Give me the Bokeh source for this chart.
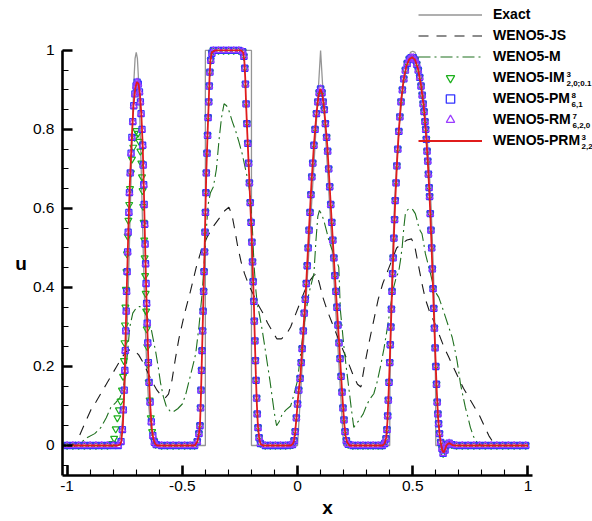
from bokeh.plotting import figure
from bokeh.models import FixedTicker, PrintfTickFormatter, Legend, LegendItem, Label, Range1d
from bokeh.embed import file_html
from bokeh.resources import INLINE

FONT = "Liberation Sans"

# ---- axis ticks -------------------------------------------------------------
x_ticks = [-1, -0.5, 0, 0.5, 1]
x_minor = [-1.0, -0.9, -0.8, -0.7, -0.6, -0.5, -0.4, -0.3, -0.2, -0.1, 0.0,
           0.1, 0.2, 0.3, 0.4, 0.5, 0.6, 0.7, 0.8, 0.9, 1.0]
u_ticks = [0, 0.2, 0.4, 0.6, 0.8, 1]
u_minor = [-0.05, 0.0, 0.05, 0.1, 0.15, 0.2, 0.25, 0.3, 0.35, 0.4, 0.45, 0.5,
           0.55, 0.6, 0.65, 0.7, 0.75, 0.8, 0.85, 0.9, 0.95, 1.0]

# ---- exact solution ---------------------------------------------------------
exact_x = [-1.0, -0.8, -0.78, -0.77, -0.765, -0.76, -0.755, -0.75, -0.745, -0.74,
           -0.735, -0.73, -0.725, -0.72, -0.715, -0.71, -0.705, -0.7, -0.695, -0.69,
           -0.685, -0.68, -0.675, -0.67, -0.665, -0.66, -0.655, -0.65, -0.645, -0.64,
           -0.635, -0.63, -0.62, -0.6,
           -0.4, -0.4, -0.2, -0.2,
           0.0, 0.1, 0.2,
           0.4, 0.401, 0.405, 0.41, 0.42, 0.43, 0.44, 0.45, 0.46, 0.47, 0.48, 0.49, 0.5,
           0.51, 0.52, 0.53, 0.54, 0.55, 0.56, 0.57, 0.58, 0.59, 0.595, 0.599, 0.6, 1.0]
exact_u = [0.0, 0.0, 0.007, 0.023, 0.039, 0.063, 0.097, 0.146, 0.21, 0.29,
           0.39, 0.5, 0.618, 0.735, 0.84, 0.926, 0.98, 0.995, 0.98, 0.926,
           0.84, 0.735, 0.618, 0.5, 0.39, 0.29, 0.21, 0.146, 0.097, 0.063,
           0.039, 0.023, 0.007, 0.0,
           0.0, 1.0, 1.0, 0.0,
           0.0, 1.0, 0.0,
           0.0, 0.141, 0.312, 0.436, 0.6, 0.714, 0.8, 0.866, 0.917, 0.954, 0.98, 0.995, 0.998,
           0.995, 0.98, 0.954, 0.917, 0.866, 0.8, 0.714, 0.6, 0.436, 0.312, 0.141, 0.0, 0.0]

# ---- WENO5-JS ---------------------------------------------------------------
js_x = [-1.0, -0.97, -0.95, -0.92, -0.897, -0.875, -0.854, -0.83, -0.81, -0.785,
        -0.76, -0.735, -0.71, -0.69, -0.67, -0.65, -0.63, -0.61, -0.59, -0.575,
        -0.56, -0.545, -0.53, -0.515, -0.49, -0.465, -0.44, -0.415, -0.39, -0.365,
        -0.34, -0.315, -0.298, -0.285, -0.272, -0.26, -0.245, -0.23, -0.211, -0.19,
        -0.175, -0.15, -0.13, -0.11, -0.09, -0.07, -0.05, -0.03, -0.01, 0.01,
        0.03, 0.05, 0.07, 0.082, 0.095, 0.11, 0.13, 0.15, 0.17, 0.195,
        0.22, 0.24, 0.26, 0.275, 0.29, 0.31, 0.33, 0.35, 0.37, 0.39,
        0.41, 0.43, 0.45, 0.475, 0.495, 0.51, 0.525, 0.54, 0.555, 0.575,
        0.595, 0.615, 0.635, 0.655, 0.675, 0.695, 0.72, 0.745, 0.77, 0.79,
        0.81, 0.83, 0.85, 0.87, 1.0]
js_u = [0.0, 0.003, 0.02, 0.06, 0.09, 0.11, 0.131, 0.155, 0.175, 0.2,
        0.225, 0.242, 0.24, 0.23, 0.21, 0.185, 0.16, 0.14, 0.125, 0.12,
        0.13, 0.165, 0.22, 0.27, 0.335, 0.39, 0.45, 0.5, 0.53, 0.555,
        0.575, 0.595, 0.603, 0.585, 0.545, 0.505, 0.465, 0.435, 0.405, 0.38,
        0.36, 0.335, 0.31, 0.29, 0.27, 0.27, 0.28, 0.3, 0.33, 0.36,
        0.39, 0.415, 0.43, 0.435, 0.41, 0.375, 0.34, 0.31, 0.28, 0.245,
        0.21, 0.18, 0.155, 0.148, 0.2, 0.26, 0.315, 0.37, 0.41, 0.44,
        0.47, 0.5, 0.51, 0.52, 0.523, 0.5, 0.455, 0.41, 0.37, 0.335,
        0.31, 0.28, 0.25, 0.225, 0.2, 0.175, 0.145, 0.12, 0.095, 0.075,
        0.05, 0.025, 0.007, 0.0, 0.0]

# ---- WENO5-M ----------------------------------------------------------------
m_x = [-1.0, -0.95, -0.93, -0.91, -0.88, -0.854, -0.83, -0.81, -0.79, -0.77,
       -0.755, -0.745, -0.737, -0.728, -0.715, -0.7, -0.685, -0.67, -0.652, -0.635,
       -0.625, -0.615, -0.605, -0.595, -0.583, -0.57, -0.555, -0.543, -0.52, -0.5,
       -0.485, -0.47, -0.455, -0.442, -0.428, -0.413, -0.399, -0.388, -0.378, -0.365,
       -0.352, -0.341, -0.33, -0.319, -0.308, -0.298, -0.283, -0.269, -0.255, -0.24,
       -0.228, -0.218, -0.204, -0.196, -0.189, -0.182, -0.175, -0.165, -0.153, -0.142,
       -0.131, -0.12, -0.11, -0.1, -0.091, -0.08, -0.066, -0.05, -0.03, -0.015,
       0.0, 0.015, 0.027, 0.04, 0.049, 0.06, 0.071, 0.08, 0.088, 0.095,
       0.105, 0.114, 0.125, 0.136, 0.147, 0.157, 0.168, 0.179, 0.186, 0.193,
       0.2, 0.211, 0.222, 0.233, 0.244, 0.255, 0.266, 0.285, 0.302, 0.317,
       0.331, 0.345, 0.36, 0.375, 0.389, 0.403, 0.417, 0.428, 0.439, 0.447,
       0.454, 0.461, 0.468, 0.478, 0.49, 0.5, 0.511, 0.519, 0.526, 0.533,
       0.54, 0.548, 0.555, 0.566, 0.577, 0.591, 0.602, 0.613, 0.628, 0.642,
       0.656, 0.671, 0.682, 0.692, 0.7, 0.707, 0.718, 0.728, 0.74, 0.75,
       0.762, 0.772, 0.785, 0.8, 1.0]
m_u = [0.0, 0.004, 0.012, 0.021, 0.03, 0.045, 0.07, 0.097, 0.108, 0.122,
       0.15, 0.19, 0.24, 0.3, 0.335, 0.348, 0.352, 0.345, 0.325, 0.295,
       0.265, 0.235, 0.2, 0.16, 0.125, 0.1, 0.088, 0.084, 0.093, 0.105,
       0.13, 0.165, 0.2, 0.232, 0.3, 0.392, 0.519, 0.61, 0.64, 0.655,
       0.7, 0.772, 0.83, 0.865, 0.86, 0.848, 0.82, 0.797, 0.77, 0.738,
       0.705, 0.679, 0.629, 0.55, 0.46, 0.4, 0.359, 0.33, 0.291, 0.25,
       0.207, 0.165, 0.122, 0.08, 0.05, 0.06, 0.08, 0.09, 0.1, 0.13,
       0.165, 0.24, 0.3, 0.35, 0.384, 0.41, 0.435, 0.52, 0.58, 0.595,
       0.585, 0.57, 0.545, 0.519, 0.5, 0.485, 0.47, 0.451, 0.342, 0.3,
       0.257, 0.2, 0.148, 0.095, 0.046, 0.055, 0.063, 0.08, 0.105, 0.12,
       0.131, 0.16, 0.2, 0.245, 0.295, 0.35, 0.4, 0.425, 0.44, 0.47,
       0.502, 0.55, 0.587, 0.597, 0.6, 0.597, 0.587, 0.57, 0.553, 0.543,
       0.536, 0.51, 0.485, 0.46, 0.435, 0.4, 0.385, 0.375, 0.35, 0.325,
       0.3, 0.274, 0.245, 0.215, 0.185, 0.156, 0.125, 0.097, 0.07, 0.046,
       0.025, 0.013, 0.004, 0.0, 0.0]

# ---- WENO5-PRM (solid line) -------------------------------------------------
prm_x = [-1.0, -0.78, -0.77, -0.765, -0.758, -0.752, -0.746, -0.740, -0.734, -0.728,
         -0.720, -0.712, -0.704, -0.697, -0.690, -0.684, -0.678, -0.672, -0.667, -0.662,
         -0.657, -0.651, -0.645, -0.638, -0.632, -0.625, -0.618, -0.61,
         -0.445, -0.435, -0.429, -0.4235, -0.42, -0.416, -0.409, -0.402, -0.396, -0.391,
         -0.386, -0.382, -0.378, -0.372, -0.36,
         -0.245, -0.236, -0.231, -0.227, -0.223, -0.218, -0.212, -0.205, -0.199, -0.194,
         -0.189, -0.185, -0.181, -0.177, -0.172, -0.166, -0.16, -0.15,
         -0.03, -0.022, -0.016, -0.01, -0.004, 0.002, 0.013, 0.024, 0.035, 0.049,
         0.06, 0.071, 0.082, 0.091, 0.099, 0.107, 0.116, 0.129, 0.14, 0.15,
         0.161, 0.172, 0.183, 0.194, 0.202, 0.208, 0.215, 0.225,
         0.37, 0.378, 0.385, 0.39, 0.395, 0.40, 0.405, 0.41, 0.417, 0.424,
         0.432, 0.44, 0.449, 0.46, 0.472, 0.485, 0.497, 0.51, 0.522, 0.535,
         0.547, 0.556, 0.565, 0.573, 0.58, 0.586, 0.592, 0.598, 0.604, 0.61,
         0.616, 0.622, 0.628, 0.634, 0.64, 0.646, 0.654, 0.662, 0.672, 0.69,
         1.0]
prm_u = [0.0, 0.0, 0.002, 0.01, 0.05, 0.14, 0.28, 0.42, 0.55, 0.66,
         0.77, 0.86, 0.905, 0.92, 0.915, 0.89, 0.84, 0.76, 0.65, 0.52,
         0.40, 0.28, 0.17, 0.09, 0.04, 0.015, 0.004, 0.0,
         0.0, 0.01, 0.025, 0.05, 0.11, 0.2, 0.36, 0.53, 0.69, 0.78,
         0.86, 0.93, 0.975, 0.995, 1.0,
         1.0, 0.995, 0.975, 0.93, 0.86, 0.79, 0.71, 0.61, 0.53, 0.44,
         0.35, 0.26, 0.18, 0.11, 0.05, 0.015, 0.003, 0.0,
         0.0, 0.003, 0.01, 0.035, 0.075, 0.12, 0.18, 0.28, 0.38, 0.54,
         0.66, 0.76, 0.84, 0.885, 0.903, 0.89, 0.85, 0.76, 0.65, 0.55,
         0.44, 0.34, 0.235, 0.13, 0.06, 0.025, 0.008, 0.0,
         0.0, 0.005, 0.02, 0.06, 0.13, 0.21, 0.3, 0.39, 0.51, 0.62,
         0.72, 0.80, 0.87, 0.925, 0.96, 0.978, 0.983, 0.976, 0.955, 0.915,
         0.86, 0.80, 0.72, 0.63, 0.53, 0.43, 0.33, 0.23, 0.14, 0.07,
         0.03, 0.005, -0.012, -0.018, -0.01, 0.0, 0.005, 0.005, 0.001, 0.0,
         0.0]

# ---- symbol series ----------------------------------------------------------
# Gaussian pulse region, WENO5-PM / WENO5-RM (the two coincide)
pm_gauss_x = [-1.0, -0.975, -0.95, -0.925, -0.9, -0.875, -0.85, -0.825, -0.8, -0.778,
              -0.766, -0.760, -0.756, -0.752, -0.7495, -0.7475, -0.7455, -0.7435, -0.742, -0.7395,
              -0.7375, -0.735, -0.732, -0.7295, -0.726, -0.7225, -0.719, -0.715, -0.711, -0.706,
              -0.701, -0.696,
              -0.691, -0.686, -0.682, -0.679, -0.675, -0.672, -0.6697, -0.6675, -0.6655, -0.6635,
              -0.6616, -0.6595, -0.6574, -0.655, -0.6525, -0.650, -0.6472, -0.6441, -0.6398, -0.6344,
              -0.628, -0.621, -0.613]
pm_gauss_u = [0.0, 0.0, 0.0, 0.0, 0.0, 0.0, 0.0, 0.0, 0.0, 0.0,
              0.01, 0.04, 0.09, 0.14, 0.19, 0.24, 0.29, 0.34, 0.39, 0.44,
              0.49, 0.54, 0.59, 0.64, 0.69, 0.74, 0.78, 0.82, 0.86, 0.89,
              0.91, 0.92,
              0.915, 0.895, 0.87, 0.84, 0.80, 0.76, 0.71, 0.66, 0.61, 0.56,
              0.51, 0.46, 0.41, 0.36, 0.31, 0.26, 0.21, 0.16, 0.11, 0.06,
              0.025, 0.008, 0.002]

# Gaussian pulse region, WENO5-IM
im_gauss_x = [-1.0, -0.975, -0.95, -0.925, -0.9, -0.875, -0.85, -0.825,
              -0.804, -0.796, -0.789, -0.782, -0.775, -0.768, -0.762, -0.757, -0.7535, -0.751,
              -0.749, -0.747, -0.745, -0.7425, -0.74, -0.737, -0.734, -0.7305, -0.727, -0.723,
              -0.7185, -0.713, -0.707, -0.7,
              -0.693, -0.687, -0.682, -0.678, -0.675, -0.6725, -0.670, -0.668, -0.6655, -0.6635,
              -0.6614, -0.659, -0.6568, -0.6545, -0.652, -0.6492, -0.646, -0.642, -0.637, -0.631,
              -0.624, -0.616]
im_gauss_u = [0.0, 0.0, 0.0, 0.0, 0.0, 0.0, 0.0, 0.0,
              0.005, 0.018, 0.042, 0.07, 0.09, 0.112, 0.14, 0.175, 0.215, 0.26,
              0.305, 0.35, 0.395, 0.44, 0.485, 0.53, 0.57, 0.61, 0.65, 0.69,
              0.725, 0.755, 0.78, 0.797,
              0.79, 0.77, 0.745, 0.715, 0.68, 0.645, 0.605, 0.565, 0.52, 0.475,
              0.43, 0.385, 0.34, 0.295, 0.25, 0.205, 0.16, 0.115, 0.07, 0.035,
              0.013, 0.003]

# square wave, triangle and half ellipse: all three symbol series coincide
rest_x = [-0.59, -0.565, -0.54, -0.515, -0.49, -0.466, -0.447,
          -0.435, -0.428, -0.4235, -0.421, -0.419, -0.4165, -0.4143, -0.412, -0.4098, -0.4077,
          -0.4057, -0.4036, -0.4015, -0.3996, -0.3977, -0.3958, -0.393, -0.3905, -0.388, -0.3855,
          -0.383, -0.3805, -0.377, -0.372, -0.365,
          -0.343, -0.321, -0.299, -0.277, -0.255, -0.238,
          -0.233, -0.229, -0.2261, -0.2233, -0.2198, -0.2161, -0.2124, -0.2088, -0.2053, -0.2016,
          -0.1982, -0.1954, -0.1926, -0.1898, -0.1874, -0.1852, -0.1828, -0.1801, -0.1776, -0.175,
          -0.1715, -0.167,
          -0.161, -0.14, -0.118, -0.096, -0.074, -0.052, -0.032,
          -0.022, -0.015, -0.01, -0.005, 0.0, 0.005, 0.011, 0.016, 0.02, 0.025,
          0.029, 0.034, 0.038, 0.042, 0.046, 0.050, 0.054, 0.058, 0.062, 0.066,
          0.071, 0.076, 0.082, 0.088, 0.094, 0.1,
          0.106, 0.111, 0.116, 0.121, 0.126, 0.1305, 0.135, 0.1395, 0.144, 0.1485,
          0.153, 0.1575, 0.162, 0.1665, 0.171, 0.1755, 0.18, 0.1845, 0.189, 0.193,
          0.197, 0.2015, 0.206, 0.212, 0.22,
          0.24, 0.262, 0.284, 0.306, 0.328, 0.35, 0.368,
          0.378, 0.384, 0.388, 0.391, 0.394, 0.397, 0.4, 0.4025, 0.405, 0.4075,
          0.41, 0.4125, 0.415, 0.418, 0.421, 0.424, 0.4275, 0.431, 0.435, 0.4395,
          0.444, 0.449, 0.455, 0.461, 0.468, 0.476, 0.485, 0.493,
          0.502, 0.51, 0.517, 0.524, 0.53, 0.536, 0.541, 0.545, 0.549, 0.553,
          0.556, 0.559, 0.562, 0.565, 0.568, 0.571, 0.573, 0.576, 0.579, 0.582,
          0.585, 0.588, 0.591, 0.594, 0.597, 0.6, 0.603, 0.606, 0.609, 0.612,
          0.616, 0.621,
          0.627, 0.632, 0.64, 0.648, 0.658, 0.67,
          0.69, 0.715, 0.74, 0.765, 0.79, 0.815, 0.84, 0.865, 0.89, 0.915,
          0.94, 0.965, 0.99]
rest_u = [0.0, 0.0, 0.0, 0.0, 0.0, 0.0, 0.0,
          0.01, 0.03, 0.05, 0.095, 0.14, 0.19, 0.24, 0.29, 0.34, 0.39,
          0.44, 0.49, 0.54, 0.59, 0.64, 0.69, 0.74, 0.785, 0.83, 0.87,
          0.91, 0.945, 0.975, 0.993, 1.0,
          1.0, 1.0, 1.0, 1.0, 1.0, 0.997,
          0.985, 0.955, 0.915, 0.865, 0.815, 0.765, 0.715, 0.665, 0.615, 0.565,
          0.515, 0.465, 0.415, 0.365, 0.315, 0.265, 0.215, 0.165, 0.12, 0.08,
          0.045, 0.02,
          0.005, 0.0, 0.0, 0.0, 0.0, 0.0, 0.001,
          0.002, 0.012, 0.035, 0.07, 0.105, 0.14, 0.17, 0.21, 0.245, 0.29,
          0.335, 0.37, 0.41, 0.455, 0.5, 0.545, 0.59, 0.635, 0.68, 0.715,
          0.76, 0.8, 0.84, 0.87, 0.893, 0.903,
          0.893, 0.87, 0.85, 0.815, 0.78, 0.745, 0.70, 0.655, 0.61, 0.565,
          0.52, 0.475, 0.43, 0.39, 0.35, 0.305, 0.26, 0.22, 0.175, 0.135,
          0.095, 0.065, 0.035, 0.012, 0.003,
          0.0, 0.0, 0.0, 0.0, 0.0, 0.0, 0.0,
          0.005, 0.017, 0.04, 0.075, 0.115, 0.16, 0.21, 0.255, 0.3, 0.345,
          0.39, 0.435, 0.475, 0.525, 0.572, 0.62, 0.665, 0.708, 0.75, 0.795,
          0.832, 0.87, 0.9, 0.928, 0.95, 0.967, 0.978, 0.982,
          0.982, 0.976, 0.965, 0.95, 0.932, 0.91, 0.887, 0.865, 0.845, 0.82,
          0.80, 0.775, 0.745, 0.72, 0.687, 0.653, 0.63, 0.587, 0.545, 0.5,
          0.447, 0.397, 0.347, 0.297, 0.247, 0.2, 0.155, 0.11, 0.08, 0.055,
          0.03, 0.008,
          -0.008, -0.02, -0.012, 0.002, 0.006, 0.002,
          0.0, 0.0, 0.0, 0.0, 0.0, 0.0, 0.0, 0.0, 0.0, 0.0,
          0.0, 0.0, 0.0]

pm_x = pm_gauss_x + rest_x
pm_u = pm_gauss_u + rest_u
im_x = im_gauss_x + rest_x
im_u = im_gauss_u + rest_u

# ---- figure -----------------------------------------------------------------
# the data frame reaches the right and top edges so that the legend and the
# scheme-name scripts are not clipped; the axes are bounded to the data span
p = figure(width=592, height=521, output_backend="svg", toolbar_location=None,
           x_range=Range1d(-1.02, 1.28), y_range=Range1d(-0.076, 1.1265),
           min_border_left=62, min_border_right=0, min_border_top=0, min_border_bottom=46)
p.xgrid.visible = False
p.ygrid.visible = False
p.outline_line_color = None
p.background_fill_color = "white"

r_exact = p.line(exact_x, exact_u, line_color="#959595", line_width=1.3)
r_js = p.line(js_x, js_u, line_color="#1a1a1a", line_width=1.1, line_dash="10 8")
r_m = p.line(m_x, m_u, line_color="#1f701f", line_width=1.1, line_dash="12 4 2 4")
r_im = p.scatter(im_x, im_u, marker="inverted_triangle", size=7, fill_color=None,
                 line_color="#1cb01c", line_width=1.2)
r_pm = p.scatter(pm_x, pm_u, marker="square", size=6, fill_color=None,
                 line_color="#3535ff", line_width=1.3)
r_rm = p.scatter(pm_x, pm_u, marker="triangle", size=7, fill_color=None,
                 line_color="#9a3cff", line_width=1.2)
r_prm = p.line(prm_x, prm_u, line_color="#e01c1c", line_width=1.8)

# ---- axes -------------------------------------------------------------------
for ax in (p.xaxis[0], p.yaxis[0]):
    ax.axis_line_width = 2.6
    ax.axis_line_color = "black"
    ax.major_tick_in = 10
    ax.major_tick_out = 0
    ax.major_tick_line_width = 2.6
    ax.minor_tick_in = 6
    ax.minor_tick_out = 0
    ax.minor_tick_line_width = 1.1
    ax.major_label_text_font = FONT
    ax.major_label_text_font_size = "15.5px"
    ax.major_label_text_color = "black"
    ax.formatter = PrintfTickFormatter(format="%g")
    ax.axis_label_text_font = FONT
    ax.axis_label_text_font_size = "19px"
    ax.axis_label_text_font_style = "bold"
    ax.axis_label_text_color = "black"

p.xaxis.ticker = FixedTicker(ticks=x_ticks, minor_ticks=x_minor)
p.yaxis.ticker = FixedTicker(ticks=u_ticks, minor_ticks=u_minor)
p.xaxis.major_label_standoff = 5
p.yaxis.major_label_standoff = 8
p.xaxis.bounds = (-1.02, 1.02)
p.yaxis.bounds = (-0.076, 1.0)

p.xaxis.axis_label = "x"
p.xaxis.axis_label_standoff = 3
# "u" sits at the middle of the bounded axis, one text line below the frame centre
p.yaxis.axis_label = "\n\nu"
p.yaxis.axis_label_standoff = 3
p.yaxis.axis_label_orientation = "horizontal"

# frame-relative pixel helper: (canvas x, canvas y) -> frame screen units
FRAME_LEFT, FRAME_BOTTOM = 62, 475


def add_text(text, cx, cy, size, bold=True, align="left"):
    p.add_layout(Label(x=cx - FRAME_LEFT, y=FRAME_BOTTOM - cy, x_units="screen", y_units="screen",
                       text=text, text_font=FONT, text_font_size=size,
                       text_font_style="bold" if bold else "normal",
                       text_align=align, text_baseline="middle", text_color="black"))


# ---- legend -----------------------------------------------------------------
legend = Legend(
    items=[LegendItem(label="Exact", renderers=[r_exact]),
           LegendItem(label="WENO5-JS", renderers=[r_js]),
           LegendItem(label="WENO5-M", renderers=[r_m]),
           LegendItem(label="WENO5-IM", renderers=[r_im]),
           LegendItem(label="WENO5-PM", renderers=[r_pm]),
           LegendItem(label="WENO5-RM", renderers=[r_rm]),
           LegendItem(label="WENO5-PRM", renderers=[r_prm])],
    location=(356, 324.5), orientation="vertical",
    glyph_width=64, glyph_height=21, label_height=21, label_width=20,
    spacing=0, padding=0, margin=0, label_standoff=11,
    border_line_color=None, background_fill_alpha=0,
    label_text_font=FONT, label_text_font_style="bold", label_text_font_size="14px",
    label_text_color="black")
p.add_layout(legend)

# superscripts / subscripts of the scheme names
scripts = [("3", "2,0;0.1", 566, 77),
           ("8", "6,1", 571, 98),
           ("7", "6,2,0", 572, 119),
           ("3", "2,2", 581, 140)]
for sup, sub, cx, cy in scripts:
    add_text(sup, cx, cy - 3.5, "8px")
    add_text(sub, cx, cy + 5.5, "8px")

open("out.html", "w").write(file_html(p, INLINE))
